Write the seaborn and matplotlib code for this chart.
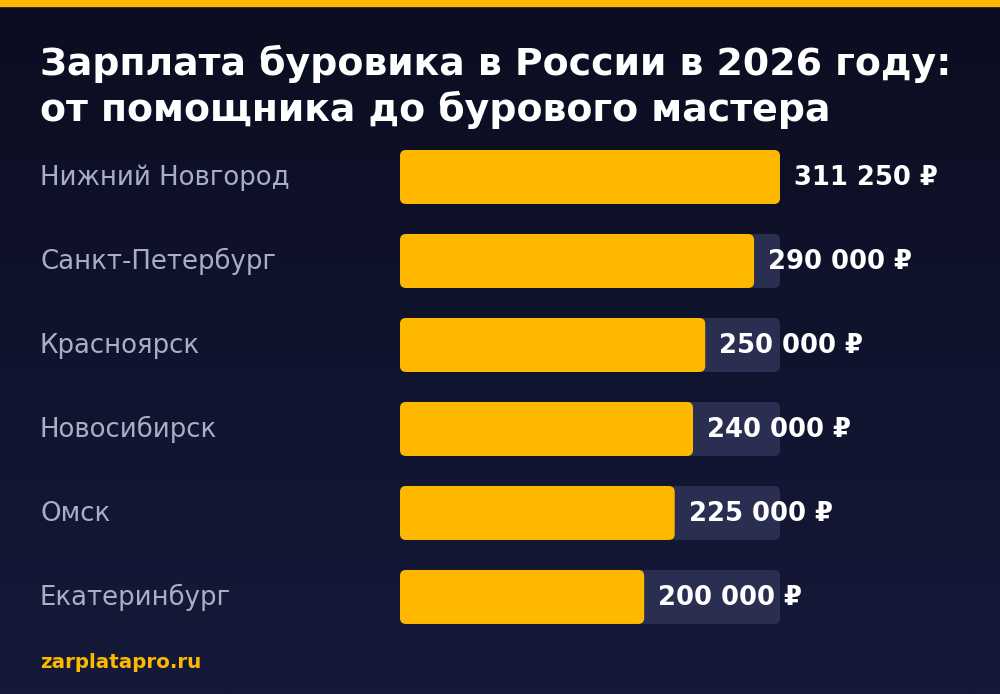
import os
import numpy as np
import pandas as pd
import matplotlib
matplotlib.use("Agg")
import matplotlib.pyplot as plt
import seaborn as sns
from matplotlib.patches import FancyBboxPatch, Rectangle
from matplotlib.font_manager import FontProperties

cities = ["Нижний Новгород", "Санкт-Петербург", "Красноярск", "Новосибирск", "Омск", "Екатеринбург"]
salaries = [311250, 290000, 250000, 240000, 225000, 200000]
value_labels = ["311 250 ₽", "290 000 ₽", "250 000 ₽", "240 000 ₽", "225 000 ₽", "200 000 ₽"]
title = "Зарплата буровика в России в 2026 году:\nот помощника до бурового мастера"
footer = "zarplatapro.ru"

sns.set_style("white")
fdir = os.path.join(matplotlib.get_data_path(), "fonts", "ttf")
def fp(bold, size):
    return FontProperties(fname=os.path.join(fdir, "DejaVuSans-Bold.ttf" if bold else "DejaVuSans.ttf"), size=size)

df = pd.DataFrame({"city": cities, "salary": salaries})
vmax = max(salaries)

fig = plt.figure(figsize=(10, 6.94), dpi=100)
bg = fig.add_axes([0, 0, 1, 1], zorder=-2)
grad = np.linspace(0, 1, 256).reshape(-1, 1)
cmap = matplotlib.colors.LinearSegmentedColormap.from_list("bg", ["#0b0d20", "#151a3a"])
bg.imshow(grad, aspect="auto", cmap=cmap, extent=[0, 1, 0, 1], origin="upper")
bg.add_patch(Rectangle((0, 1 - 6/694), 1, 6/694, color="#FFB800", transform=bg.transAxes))
bg.set_xlim(0, 1); bg.set_ylim(0, 1); bg.axis("off")

ax = fig.add_axes([0.4, 0.0793, 0.38, 0.7262])
ax.set_facecolor("none")
sns.barplot(data=df.assign(track=vmax), x="track", y="city", color="#2a2f52", width=54/84, ax=ax, saturation=1)
sns.barplot(data=df, x="salary", y="city", color="#FFB800", width=54/84, ax=ax, saturation=1)
ax.set_xlim(0, vmax)
ax.set_ylim(len(cities) - 0.5, -0.5)

xu = vmax / 380.0
r = 6 * xu
asp = (1/84) / xu
for p in list(ax.patches):
    x, y, w, h = p.get_x(), p.get_y(), p.get_width(), p.get_height()
    fb = FancyBboxPatch((x, y), w, h, boxstyle=f"round,pad=0,rounding_size={r}",
                        mutation_aspect=asp, facecolor=p.get_facecolor(), edgecolor="none",
                        zorder=p.get_zorder())
    p.remove()
    ax.add_patch(fb)

for i, (v, lab) in enumerate(zip(salaries, value_labels)):
    ax.text(v + 14 * xu, i + 0.01, lab, va="center", ha="left", color="white",
            fontproperties=fp(True, 18.6), clip_on=False)
    ax.text(-360 * xu, i + 0.01, cities[i], va="center", ha="left", color="#a9aec6",
            fontproperties=fp(False, 18.7), clip_on=False)

ax.axis("off")

fig.text(0.04, 1 - 87/694, title, color="white", fontproperties=fp(True, 27.3),
         ha="left", va="center", linespacing=1.25)
fig.text(0.04, 1 - 662/694, footer, color="#FFB800", fontproperties=fp(True, 14.3),
         ha="left", va="center")

fig.savefig("out.png", dpi=100)
